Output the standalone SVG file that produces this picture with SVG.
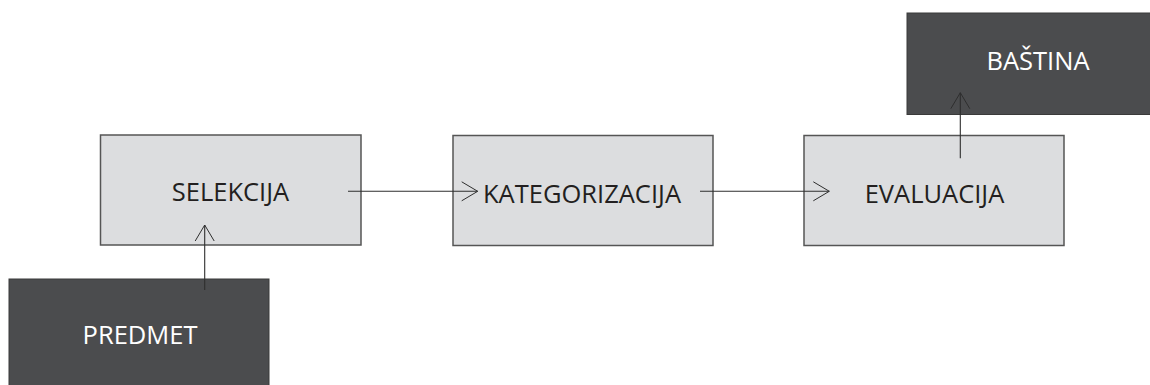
<svg xmlns="http://www.w3.org/2000/svg" width="1150" height="385" viewBox="0 0 1150 385">
<style>
.light{fill:#dcdddf;stroke:#555555;stroke-width:1.5}
.dark{fill:#4b4c4e;stroke:#3a3a3a;stroke-width:1}
.lt{font-family:"Open Sans","Liberation Sans",sans-serif;font-size:25.5px;fill:#231f20;text-anchor:middle}
.dt{font-family:"Open Sans","Liberation Sans",sans-serif;font-size:25.5px;fill:#ffffff;text-anchor:middle}
.conn{stroke:#2e2e2e;stroke-width:1.1;fill:none}
</style>
<defs>
<marker id="arr" markerUnits="userSpaceOnUse" markerWidth="20" markerHeight="22" viewBox="-17 -11 18 22" refX="0" refY="0" orient="auto">
<path d="M-16,-9.5 L0,0 L-16,9.5" fill="none" stroke="#2e2e2e" stroke-width="1"/>
</marker>
</defs>
<rect width="1150" height="385" fill="#ffffff"/>
<g id="node-selekcija">
<rect class="light" x="100.5" y="135" width="260.5" height="110"/>
<text class="lt" x="230.5" y="200.5">SELEKCIJA</text>
</g>
<g id="node-kategorizacija">
<rect class="light" x="453" y="135.5" width="260" height="110"/>
<text class="lt" x="582" y="202.5">KATEGORIZACIJA</text>
</g>
<g id="node-evaluacija">
<rect class="light" x="804" y="135.5" width="260" height="110"/>
<text class="lt" x="934.5" y="202.5">EVALUACIJA</text>
</g>
<g id="node-bastina">
<rect class="dark" x="907" y="13" width="260" height="101.5"/>
<text class="dt" x="1038" y="70">BAŠTINA</text>
</g>
<g id="node-predmet">
<rect class="dark" x="9" y="279" width="260" height="112"/>
<text class="dt" x="140" y="343.5">PREDMET</text>
</g>
<g id="connectors">
<line class="conn" x1="348" y1="191.3" x2="477.7" y2="191.3" marker-end="url(#arr)"/>
<line class="conn" x1="700" y1="191.3" x2="829.3" y2="191.3" marker-end="url(#arr)"/>
<line class="conn" x1="204.7" y1="290" x2="204.7" y2="225" marker-end="url(#arr)"/>
<line class="conn" x1="960.3" y1="158.3" x2="960.3" y2="92.7" marker-end="url(#arr)"/>
</g>
</svg>
